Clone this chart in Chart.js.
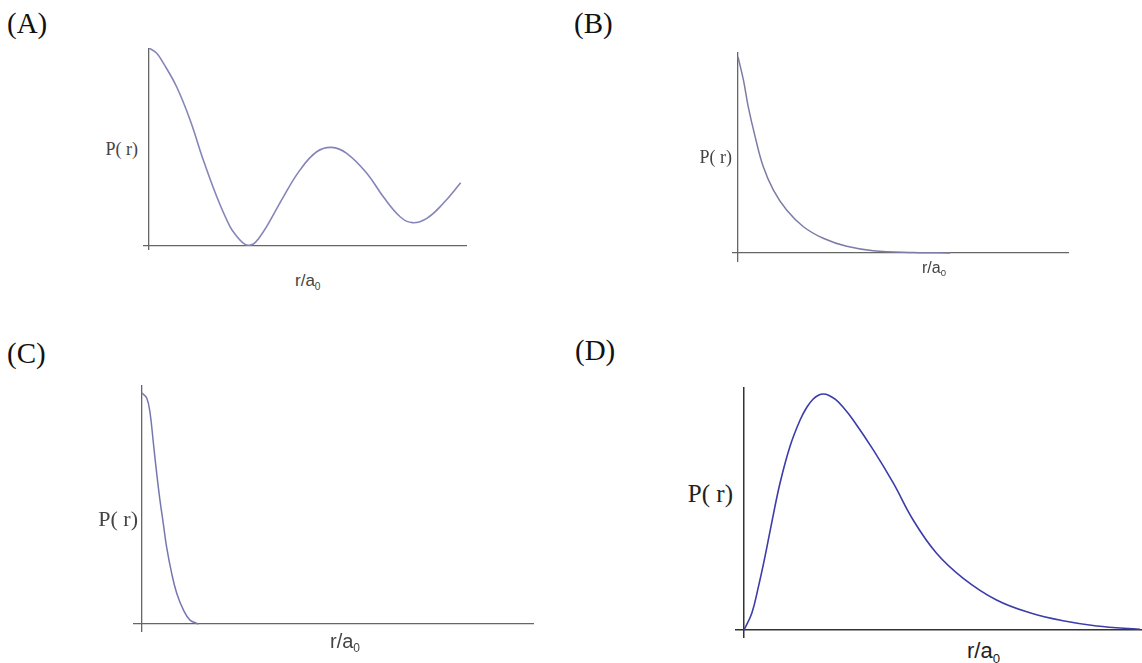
<!DOCTYPE html>
<html>
<head>
<meta charset="utf-8">
<script src="https://cdn.jsdelivr.net/npm/chart.js@4.4.1/dist/chart.umd.min.js"></script>
<style>
  html, body { margin: 0; padding: 0; background: #ffffff; }
  #wrap { position: relative; width: 1142px; height: 663px; overflow: hidden; background: #ffffff; }
  canvas { position: absolute; }
  .lbl { position: absolute; white-space: nowrap; line-height: 1; }
  .tag { font-family: "Liberation Serif", "Times New Roman", serif; font-size: 29px; color: #111; }
  .py { font-family: "Liberation Serif", "Times New Roman", serif; color: #444; text-align: right; }
  .rx { font-family: "Liberation Sans", Arial, sans-serif; color: #444; }
  .rx sub { font-size: 60%; vertical-align: -0.35em; line-height: 0; }
</style>
</head>
<body>
<div id="wrap">
  <canvas id="cA" width="324" height="202" style="left:143px;top:48px;"></canvas>
  <canvas id="cB" width="337" height="210" style="left:732px;top:52px;"></canvas>
  <canvas id="cC" width="401" height="247" style="left:133px;top:385px;"></canvas>
  <canvas id="cD" width="407" height="251" style="left:735px;top:387px;"></canvas>

  <div class="lbl tag" style="left:7px;top:9px;">(A)</div>
  <div class="lbl tag" style="left:574px;top:9px;">(B)</div>
  <div class="lbl tag" style="left:7px;top:339px;">(C)</div>
  <div class="lbl tag" style="left:575px;top:336px;">(D)</div>

  <div class="lbl py" style="left:78px;width:60px;top:140px;font-size:18px;">P( r)</div>
  <div class="lbl py" style="left:672px;width:60px;top:148px;font-size:18px;">P( r)</div>
  <div class="lbl py" style="left:68px;width:70px;top:508px;font-size:22px;">P( r)</div>
  <div class="lbl py" style="left:653px;width:80px;top:481px;font-size:25px;color:#222;">P( r)</div>

  <div class="lbl rx" style="left:295px;top:272px;font-size:17px;">r/a<sub>0</sub></div>
  <div class="lbl rx" style="left:922px;top:260px;font-size:16px;">r/a<sub>0</sub></div>
  <div class="lbl rx" style="left:330px;top:631px;font-size:20px;">r/a<sub>0</sub></div>
  <div class="lbl rx" style="left:967px;top:640px;font-size:22px;color:#222;">r/a<sub>0</sub></div>
</div>
<script>
// ---- Data (r/a0 in arbitrary units, P(r) normalised) ----
const xA = [0, 0.25, 0.48, 0.92, 1.37, 1.81, 2.26, 2.7, 2.95, 3.14, 3.3, 3.48, 3.65, 3.92, 4.48, 5.03, 5.59, 6.09, 6.59, 7.26, 7.81, 8.37, 8.78, 9.26, 9.81, 10.39];
const yA = [1.0, 0.975, 0.923, 0.804, 0.636, 0.433, 0.247, 0.096, 0.042, 0.013, 0.002, 0.008, 0.035, 0.096, 0.247, 0.382, 0.475, 0.497, 0.467, 0.366, 0.247, 0.146, 0.116, 0.138, 0.214, 0.318];

const xB = [0, 0.18, 0.34, 0.57, 0.84, 1.18, 1.62, 2.18, 2.84, 3.62, 4.51, 5.84, 7.07];
const yB = [1.0, 0.883, 0.747, 0.594, 0.441, 0.321, 0.219, 0.134, 0.075, 0.034, 0.012, 0.003, 0.0];

const xC = [0, 0.16, 0.27, 0.38, 0.49, 0.6, 0.71, 0.82, 0.99, 1.16, 1.38, 1.6, 1.88];
const yC = [1.0, 0.978, 0.913, 0.783, 0.652, 0.535, 0.435, 0.334, 0.219, 0.132, 0.061, 0.017, 0.0];

const xD = [0, 0.26, 0.48, 0.7, 0.92, 1.2, 1.53, 1.87, 2.1, 2.3, 2.48, 2.65, 2.82, 3.05, 3.3, 3.64, 4.31, 4.98, 5.64, 6.42, 7.31, 8.42, 9.53, 10.64, 11.76, 13.2];
const yD = [0, 0.071, 0.183, 0.311, 0.452, 0.622, 0.777, 0.89, 0.945, 0.978, 0.995, 1.0, 0.995, 0.977, 0.945, 0.89, 0.763, 0.622, 0.466, 0.325, 0.219, 0.127, 0.073, 0.039, 0.017, 0.003];

// axis origin ticks (the only "tick" drawn: the axis line at 0)
const axisTicks = [0];

function makePanel(id, xs, ys, cfg) {
  const pts = xs.map((x, i) => ({ x: x, y: ys[i] }));
  const gridFor = (col, w) => ({
    drawTicks: false,
    color: (c) => (c.tick && c.tick.value === 0 ? col : 'rgba(0,0,0,0)'),
    lineWidth: w
  });
  new Chart(document.getElementById(id), {
    type: 'line',
    data: {
      datasets: [{
        data: pts,
        borderColor: cfg.line,
        borderWidth: cfg.lw,
        pointRadius: 0,
        fill: false,
        tension: 0.4,
        clip: false
      }]
    },
    options: {
      responsive: false,
      animation: false,
      devicePixelRatio: 1,
      events: [],
      layout: { padding: 0 },
      plugins: { legend: { display: false }, tooltip: { enabled: false }, title: { display: false } },
      scales: {
        x: {
          type: 'linear', min: cfg.xmin, max: cfg.xmax,
          ticks: { display: false },
          border: { display: false },
          grid: gridFor(cfg.axis, cfg.aw),
          afterBuildTicks: (s) => { s.ticks = axisTicks.map(v => ({ value: v })); }
        },
        y: {
          type: 'linear', min: cfg.ymin, max: cfg.ymax,
          ticks: { display: false },
          border: { display: false },
          grid: gridFor(cfg.axis, cfg.aw),
          afterBuildTicks: (s) => { s.ticks = axisTicks.map(v => ({ value: v })); }
        }
      }
    }
  });
}

makePanel('cA', xA, yA, { xmin: -0.2, xmax: 10.6, ymin: -0.0223, ymax: 1.0, line: '#8585bb', lw: 1.6, axis: '#666666', aw: 1.3 });
makePanel('cB', xB, yB, { xmin: -0.2, xmax: 11.03, ymin: -0.0459, ymax: 1.0255, line: '#7c7ca6', lw: 1.5, axis: '#666666', aw: 1.3 });
makePanel('cC', xC, yC, { xmin: -0.3, xmax: 13.07, ymin: -0.0346, ymax: 1.035, line: '#7777b0', lw: 1.5, axis: '#666666', aw: 1.3 });
makePanel('cD', xD, yD, { xmin: -0.3, xmax: 13.27, ymin: -0.0339, ymax: 1.0297, line: '#3c3caa', lw: 1.6, axis: '#333333', aw: 1.5 });
</script>
</body>
</html>
